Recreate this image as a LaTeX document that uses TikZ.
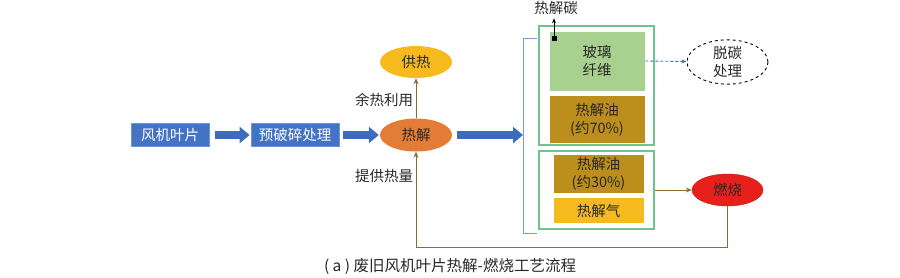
\documentclass[tikz,border=0pt]{standalone}
\usepackage{fontspec}
\setmainfont{Noto Sans CJK SC}
\usepackage{xcolor}
\usetikzlibrary{positioning,arrows.meta,shapes.geometric}

\definecolor{boxblue}{RGB}{68,114,196}
\definecolor{boxedge}{RGB}{110,150,215}
\definecolor{arrowblue}{RGB}{62,108,188}
\definecolor{pyroorange}{RGB}{227,124,52}
\definecolor{heatyellow}{RGB}{246,186,30}
\definecolor{burnred}{RGB}{232,32,28}
\definecolor{heatbrown}{RGB}{140,106,52}
\definecolor{framegreen}{RGB}{110,196,140}
\definecolor{glassgreen}{RGB}{168,208,142}
\definecolor{oilgold}{RGB}{188,142,28}
\definecolor{brackblue}{RGB}{120,155,215}
\definecolor{txtgray}{RGB}{40,40,40}

\begin{document}
\begin{tikzpicture}[
    x=1pt, y=-1pt,
    font=\fontsize{14.5}{18}\selectfont,
    text=txtgray,
    bluebox/.style={
        rectangle,
        draw=boxedge,
        fill=boxblue,
        text=white,
        line width=0.8pt,
        inner sep=0pt,
        minimum width=78pt,
        minimum height=23pt
    },
    ellip/.style={
        ellipse,
        inner sep=0pt,
        minimum width=72pt,
        minimum height=33pt
    },
    framebox/.style={
        rectangle,
        draw=framegreen,
        line width=1.2pt,
        inner sep=0pt,
        minimum width=115pt
    },
    stuff/.style={
        rectangle,
        draw=white,
        line width=0.6pt,
        inner sep=0pt,
        align=center,
        minimum width=96pt
    },
    bigarrow/.style={
        draw=arrowblue,
        line width=8pt,
        -{Triangle[length=10pt,width=16pt]}
    },
    heatarrow/.style={
        draw=heatbrown,
        line width=1pt,
        -{Stealth[length=6pt,width=5pt]}
    }
]

% Pretreatment
\useasboundingbox (0,0) rectangle (900,277);
\node[bluebox] (blade) at (170,135) {风机叶片};
\node[bluebox, minimum width=88pt] (crush) at (295,135) {预破碎处理};

% Pyrolysis and heat
\node[ellip, fill=pyroorange] (pyro) at (416,135) {热解};
\node[ellip, fill=heatyellow, minimum height=32pt] (heat) at (416,62) {供热};
\node (uselbl) at (384,100) {余热利用};
\node (supplbl) at (384,176) {提供热量};

% Products
\coordinate (brk) at (523,135);
\node[framebox, minimum height=119pt] (upper) at (596.5,85.5) {};
\node[framebox, minimum height=78pt] (lower) at (596.5,190) {};

\node[stuff, fill=glassgreen, minimum height=60pt] (glass) at (597,61)
{玻璃\\纤维};
\node[stuff, fill=oilgold, minimum height=48pt, below=4pt of glass] (oil70)
{热解油\\(约70\%)};

\node[stuff, fill=oilgold, minimum width=91pt, minimum height=39pt] (oil30) at (598.5,173.5)
{热解油\\(约30\%)};
\node[stuff, fill=heatyellow, minimum width=91pt, minimum height=26pt, below=4pt of oil30] (gas)
{热解气};

\node[fill=black, inner sep=0pt, minimum size=5pt] (dot) at (554,38) {};
\node (char) at (556,8) {热解碳};

\node[ellip, draw, dashed, line width=0.9pt, align=center, minimum width=81pt, minimum height=40pt] (decarb) at (727.5,62)
{脱碳\\处理};
\node[ellip, fill=burnred, draw=burnred!80!black, minimum width=71pt, minimum height=32pt] (burn) at (727.5,190)
{燃烧};

% Connections
\draw[bigarrow, shorten <=6pt, shorten >=1pt] (blade) -- (crush);
\draw[bigarrow, shorten <=4pt, shorten >=1pt] (crush) -- (pyro);
\draw[bigarrow, shorten <=5pt] (pyro) -- (brk);

\draw[heatarrow] (pyro) -- (heat);
\draw[heatarrow] (lower.east) -- (burn);
\draw[heatarrow] (burn.south) -- ++(0,41) -| (pyro.south);

\draw[-{Stealth[length=5pt,width=4pt]}, line width=0.9pt] (dot.center) -- (dot.center |- char.south);
\draw[-{Stealth[length=5pt,width=4pt]}, draw=arrowblue, dash pattern=on 3pt off 2pt, line width=0.9pt] (glass.east) -- (decarb);

\draw[brackblue, line width=1pt] (537,38) -- (523,38) -- (523,233) -- (537,233);

% Caption
\node[font=\fontsize{15.5}{18}\selectfont] (caption) at (450,266) {( a ) 废旧风机叶片热解-燃烧工艺流程};

\end{tikzpicture}
\end{document}
